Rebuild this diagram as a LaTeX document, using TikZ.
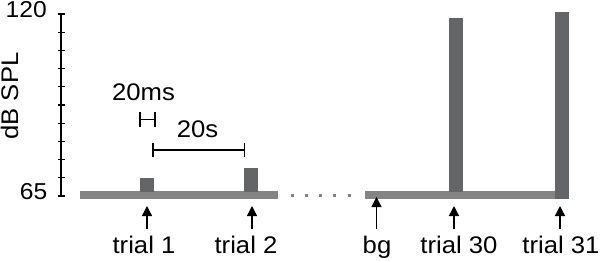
\documentclass[tikz,border=0pt]{standalone}
\usepackage{fontspec}
\setmainfont{Liberation Sans}[FakeStretch=1.07]
\usetikzlibrary{positioning,arrows.meta}
\definecolor{basegray}{HTML}{848484}
\definecolor{pulsegray}{HTML}{646567}

\begin{document}
\begin{tikzpicture}[x=1pt,y=-1pt,
  lbl/.style={font=\fontsize{24}{28}\selectfont,inner sep=0pt,anchor=base},
  ticklbl/.style={font=\fontsize{23}{27}\selectfont,inner sep=0pt,anchor=east},
  marker/.style={line width=1.4pt,-{Triangle[width=10pt,length=10pt]},shorten <=6pt},
  span/.style={line width=1.2pt}]
\useasboundingbox (0,0) rectangle (600,260);
\draw[line width=1.3pt] (61,14) -- (61,196);
\foreach \i in {0,...,10}
  \draw[line width=1.1pt] (58,14+18.2*\i) -- (64.5,14+18.2*\i);
\node[ticklbl] (top) at (47,10) {120};
\node[ticklbl] (bottom) at (47.5,192) {65};
\node[lbl,rotate=90] (ylabel) at (18,96) {dB SPL};

\fill[basegray] (80,191) rectangle (278,199);
\fill[pulsegray] (140,178) rectangle (154,191.5);
\fill[pulsegray] (244,168) rectangle (258,191.5);
\draw[basegray,line width=3pt,dash pattern=on 3pt off 11.25pt] (290.5,195) -- (352,195);
\fill[basegray] (365,191) rectangle (563,199);
\fill[pulsegray] (448.5,18) rectangle (463,191.5);
\fill[pulsegray] (555,12) rectangle (569,198.5);

\node[lbl] (ms) at (143.5,100.7) {20ms};
\coordinate (msl) at (140,119.5);
\coordinate (msr) at (155,119.5);
\draw[span] (msl) -- (msr);
\draw[span] ([yshift=7.5pt]msl) -- ([yshift=-7.5pt]msl);
\draw[span] ([yshift=7.5pt]msr) -- ([yshift=-7.5pt]msr);

\node[lbl] (sec) at (197.5,137.5) {20s};
\coordinate (secl) at (153,150);
\coordinate (secr) at (244.5,150);
\draw[span] (secl) -- (secr);
\draw[span] ([yshift=7pt]secl) -- ([yshift=-7pt]secl);
\draw[span] ([yshift=7pt]secr) -- ([yshift=-7pt]secr);

\node[lbl] (trial1) at (144,253) {trial 1};
\node[lbl] (trial2) at (246,253) {trial 2};
\node[lbl] (bg) at (377,253) {bg};
\node[lbl] (trial30) at (459,253) {trial 30};
\node[lbl] (trial31) at (561,253) {trial 31};
\coordinate (tip1) at (147,206);
\coordinate (tip2) at (252,206);
\coordinate (tipbg) at (376.5,197);
\coordinate (tip30) at (454,206);
\coordinate (tip31) at (560,206);
\draw[marker] (trial1.north -| tip1) -- (tip1);
\draw[marker] (trial2.north -| tip2) -- (tip2);
\draw[marker] (bg.north -| tipbg) -- (tipbg);
\draw[marker] (trial30.north -| tip30) -- (tip30);
\draw[marker] (trial31.north -| tip31) -- (tip31);
\end{tikzpicture}
\end{document}
